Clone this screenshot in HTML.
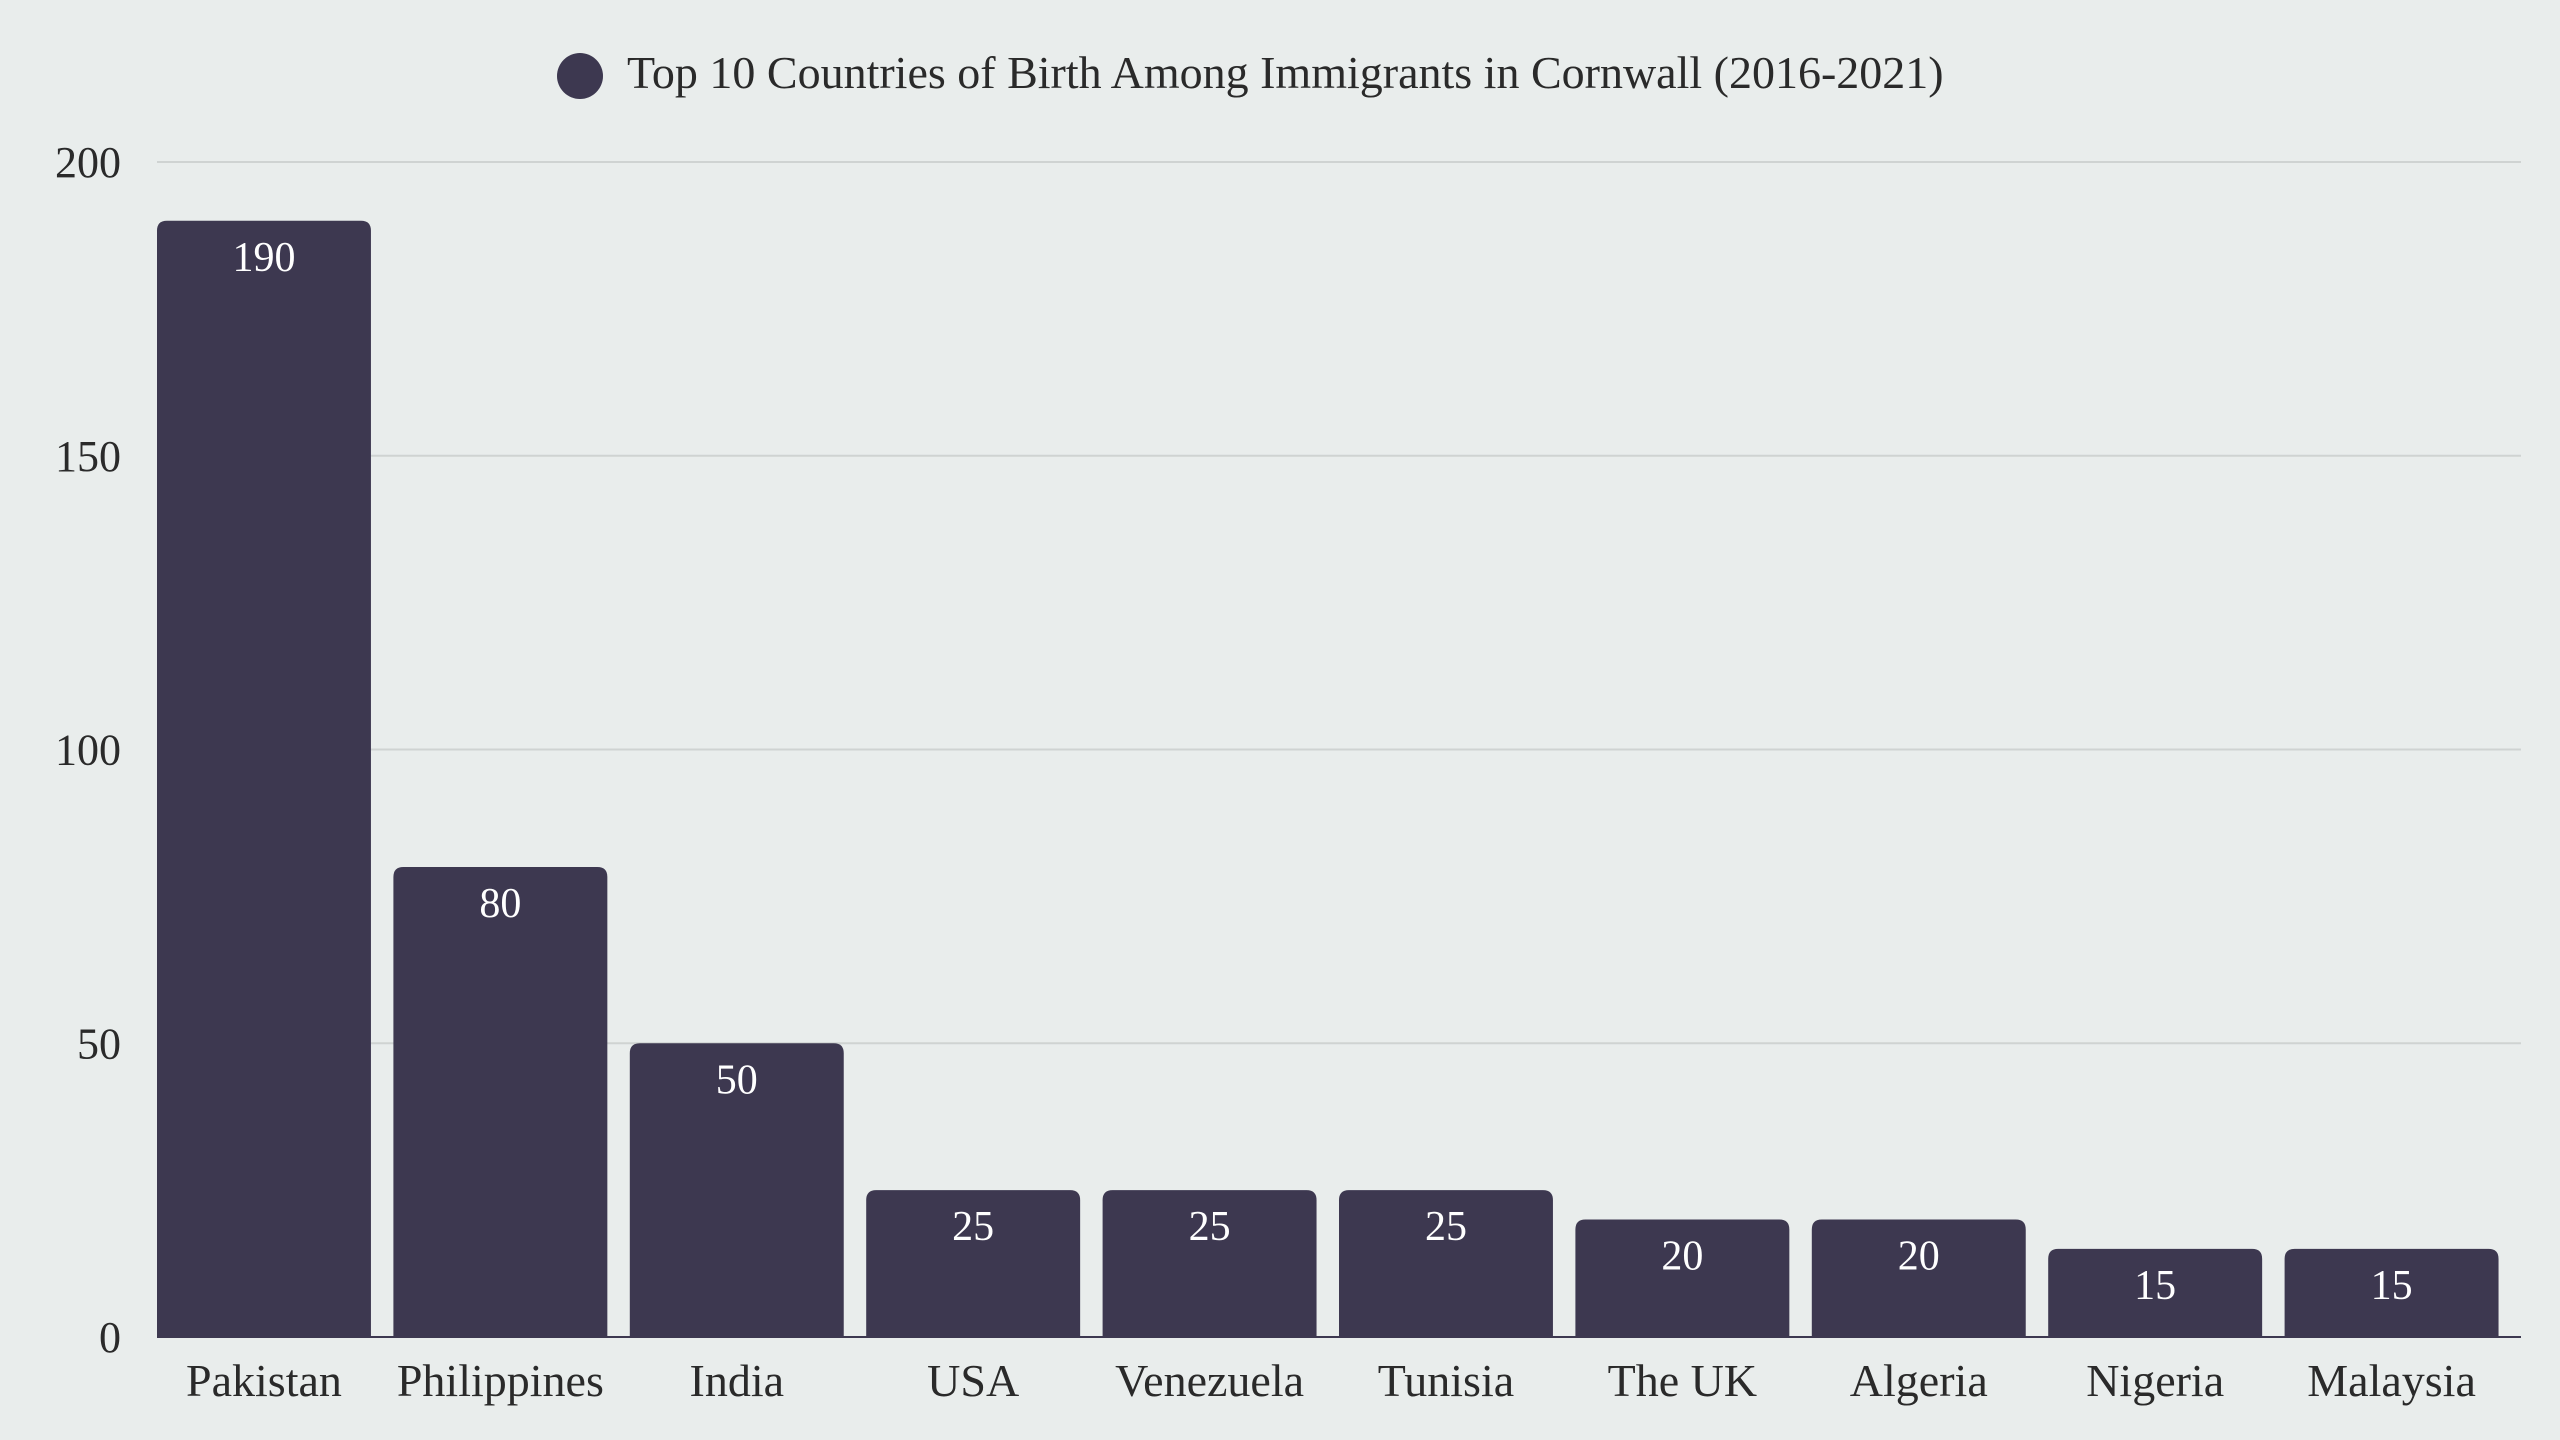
<!DOCTYPE html>
<html><head><meta charset="utf-8"><style>
html,body{margin:0;padding:0;background:#e9edec;}
svg{display:block;font-family:"Liberation Serif",serif;}
</style></head><body>
<svg id="chart" width="2560" height="1440" viewBox="0 0 2560 1440" xmlns="http://www.w3.org/2000/svg">
<rect width="2560" height="1440" fill="#e9edec"/>
<g id="legend">
<circle cx="580" cy="76" r="23" fill="#3d3850"/>
<text x="627" y="88" font-size="46" fill="#2a2a2a">Top 10 Countries of Birth Among Immigrants in Cornwall (2016-2021)</text>
</g>
<g id="grid"></g>
<g id="yaxis"></g>
<g id="bars"></g>
<g id="xaxis"></g>
</svg>
<script>
const categories = ["Pakistan","Philippines","India","USA","Venezuela","Tunisia","The UK","Algeria","Nigeria","Malaysia"];
const values = [190,80,50,25,25,25,20,20,15,15];
const yTicks = [0,50,100,150,200];

const NS="http://www.w3.org/2000/svg";
const left=157, right=2521, y0=1337, yTop=162, yMax=200;
const band=(right-left)/categories.length, barW=band*0.905;
function y(v){return y0-(v/yMax)*(y0-yTop);}
function x(i){return left+i*band;}
function mk(tag,attrs,parent){const e=document.createElementNS(NS,tag);for(const k in attrs)e.setAttribute(k,attrs[k]);parent.appendChild(e);return e;}
const grid=document.getElementById('grid'),ya=document.getElementById('yaxis'),bars=document.getElementById('bars'),xa=document.getElementById('xaxis');
yTicks.forEach(t=>{
  if(t>0){const l=mk('line',{x1:left,x2:right,y1:y(t),y2:y(t),stroke:'#cfd3d2','stroke-width':2},grid);
  
  }
  const tx=mk('text',{x:121,y:y(t)+15,'text-anchor':'end','font-size':44,fill:'#2a2a2a'},ya);
  tx.textContent=t;
  
  
});
const base=mk('line',{x1:left,x2:right,y1:y0,y2:y0,stroke:'#3d3850','stroke-width':2},grid);


categories.forEach((c,i)=>{
  const bx=x(i), by=y(values[i]), h=y0-by, r=10;
  const p=mk('path',{d:`M${bx},${y0} V${by+r} Q${bx},${by} ${bx+r},${by} H${bx+barW-r} Q${bx+barW},${by} ${bx+barW},${by+r} V${y0} Z`,fill:'#3d3850'},bars);
  
  
  const v=mk('text',{x:bx+barW/2,y:by+50,'text-anchor':'middle','font-size':42,fill:'#ffffff'},bars);
  v.textContent=values[i];
  
  
  const t=mk('text',{x:bx+barW/2,y:1396,'text-anchor':'middle','font-size':46,fill:'#2a2a2a'},xa);
  t.textContent=c;
  
  
});
</script>
</body></html>
